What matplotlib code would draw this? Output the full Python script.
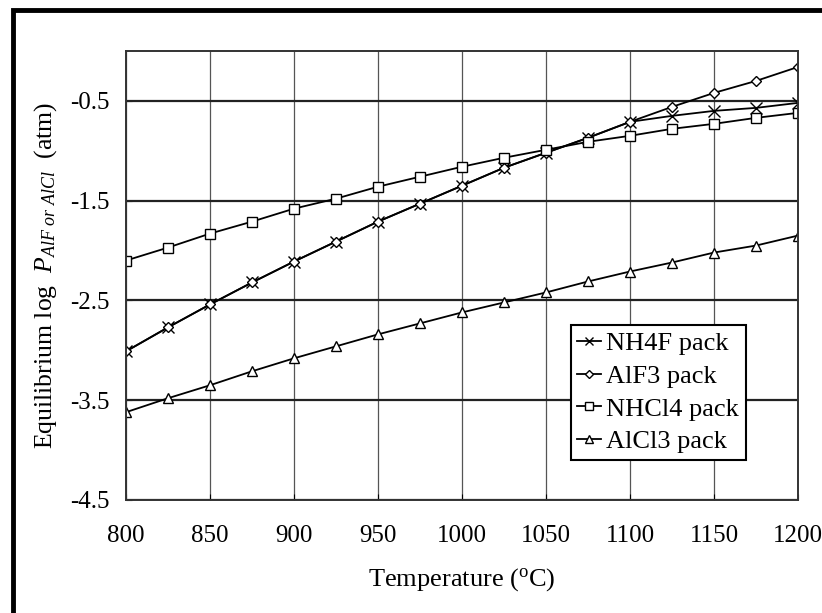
import matplotlib
matplotlib.use("Agg")
import matplotlib.pyplot as plt
from matplotlib.patches import Rectangle
import numpy as np

plt.rcParams['font.family'] = 'Liberation Serif'
plt.rcParams['mathtext.fontset'] = 'custom'
plt.rcParams['mathtext.rm'] = 'Liberation Serif'
plt.rcParams['mathtext.it'] = 'Liberation Serif:italic'

# temperatures (C)
temps = [800, 825, 850, 875, 900, 925, 950, 975, 1000, 1025,
         1050, 1075, 1100, 1125, 1150, 1175, 1200]

# log partial pressure
nh4f = [-3.01, -2.77, -2.54, -2.32, -2.11, -1.91, -1.71, -1.53, -1.35, -1.17,
        -1.02, -0.87, -0.71, -0.65, -0.60, -0.57, -0.52]
alf3 = [-3.01, -2.77, -2.54, -2.32, -2.11, -1.91, -1.71, -1.53, -1.35, -1.17,
        -1.02, -0.87, -0.71, -0.56, -0.42, -0.30, -0.16]
nhcl4 = [-2.10, -1.97, -1.83, -1.71, -1.58, -1.48, -1.36, -1.26, -1.16, -1.07,
         -0.99, -0.91, -0.85, -0.78, -0.73, -0.67, -0.62]
alcl3 = [-3.62, -3.48, -3.35, -3.21, -3.08, -2.96, -2.84, -2.73, -2.62, -2.52,
         -2.42, -2.31, -2.21, -2.12, -2.02, -1.95, -1.85]

series = [("NH4F pack", nh4f, 'x'),
          ("AlF3 pack", alf3, 'D'),
          ("NHCl4 pack", nhcl4, 's'),
          ("AlCl3 pack", alcl3, '^')]
msizes = {'x': 8, 'D': 5, 's': 7, '^': 7}

xticks = [800, 850, 900, 950, 1000, 1050, 1100, 1150, 1200]
yticks = [-4.5, -3.5, -2.5, -1.5, -0.5]

W, H = 822, 613
fig = plt.figure(figsize=(W / 100, H / 100), dpi=100)
ax = fig.add_axes([126 / W, 1 - 500 / H, (798 - 126) / W, (500 - 51) / H])

# outer frame of the figure (only left and top edges show)
fig.patches.append(Rectangle((13 / W, -0.05), 1.0, 1.05 - 10 / H,
                             transform=fig.transFigure, fill=False,
                             edgecolor='black', linewidth=3.5))

for label, vals, m in series:
    ax.plot(temps, vals, color='black', linewidth=1.3, marker=m,
            markersize=msizes[m], markerfacecolor='white',
            markeredgecolor='black', markeredgewidth=1.0, label=label)

ax.set_xlim(800, 1200)
ax.set_ylim(-4.5, 0)
ax.set_xticks(xticks)
ax.set_yticks(yticks)
ax.set_yticklabels([f"{v:.1f}" for v in yticks])
ax.tick_params(axis='x', direction='in', length=4, labelsize=18, pad=18)
ax.tick_params(axis='y', direction='in', length=4, labelsize=18, pad=12)

ax.grid(axis='x', color='#555555', linewidth=0.9)
for yv in yticks:
    ax.axhline(yv, color='#222222', linewidth=1.6, zorder=1)
ax.set_axisbelow(True)
for s in ax.spines.values():
    s.set_color('#333333')
    s.set_linewidth(1.4)

ax.set_xlabel(r"Temperature ($^{\rm o}$C)", fontsize=19, labelpad=14)
ax.set_ylabel(r"Equilibrium log  $P_{AlF\ or\ AlCl}$  (atm)", fontsize=18.5, labelpad=8)

leg = ax.legend(loc='lower left', bbox_to_anchor=(0.662, 0.089), borderaxespad=0,
                fontsize=19, frameon=True, fancybox=False, handlelength=0.9,
                handletextpad=0.2, labelspacing=0.35, borderpad=0.25,
                markerscale=0.75)
leg.get_frame().set_edgecolor('black')
leg.get_frame().set_linewidth(1.5)
leg.get_frame().set_alpha(1)

fig.savefig("out.png", dpi=100)
